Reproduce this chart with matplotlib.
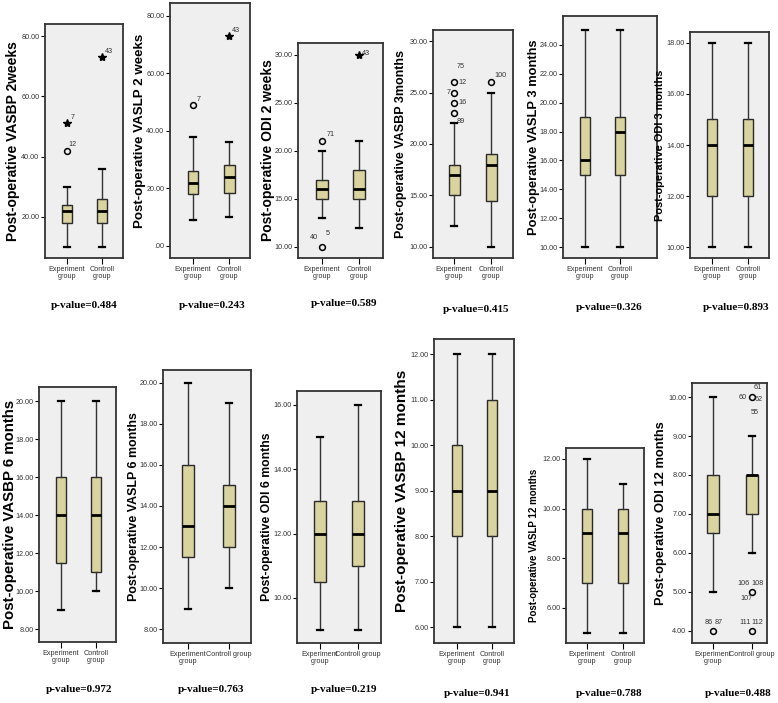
"""SPSS-style boxplots of post-operative scores, experiment vs control group"""

import matplotlib
matplotlib.use('Agg')
from matplotlib import pyplot as plt

W, H = 778, 703

# y-axis titles and p-values, one per panel (row by row)
titles = ['Post-operative VASBP 2weeks', 'Post-operative VASLP 2 weeks', 'Post-operative ODI 2 weeks',
          'Post-operative VASBP 3months', 'Post-operative VASLP 3 months', 'Post-operative ODI 3 months',
          'Post-operative VASBP 6 months', 'Post-operative VASLP 6 months', 'Post-operative ODI 6 months',
          'Post-operative VASBP 12 months', 'Post-operative VASLP 12 months', 'Post-operative ODI 12 months']
p_values = ['0.484', '0.243', '0.589', '0.415', '0.326', '0.893',
            '0.972', '0.763', '0.219', '0.941', '0.788', '0.488']

# five-number summaries (lower whisker, Q1, median, Q3, upper whisker)
exp_low = [10, 9, 13, 12, 10, 10, 9, 9, 9, 6, 5, 5]
exp_q1 = [18, 18, 15, 15, 15, 12, 11.5, 11.5, 10.5, 8, 7, 6.5]
exp_med = [22, 22, 16, 17, 16, 14, 14, 13, 12, 9, 9, 7]
exp_q3 = [24, 26, 17, 18, 19, 15, 16, 16, 13, 10, 10, 8]
exp_high = [30, 38, 20, 22, 25, 18, 20, 20, 15, 12, 12, 10]

ctl_low = [10, 10, 12, 10, 10, 10, 10, 10, 9, 6, 5, 6]
ctl_q1 = [18, 18.5, 15, 14.5, 15, 12, 11, 12, 11, 8, 7, 7]
ctl_med = [22, 24, 16, 18, 18, 14, 14, 14, 12, 9, 9, 8]
ctl_q3 = [26, 28, 18, 19, 19, 15, 16, 15, 13, 11, 10, 8]
ctl_high = [36, 36, 21, 25, 25, 18, 20, 19, 16, 12, 11, 9]

# outliers: panel, group (0 = experiment, 1 = control), value, kind, case numbers
out_panel = [0, 0, 0, 1, 1, 2, 2, 2, 3, 3, 3, 3, 3, 11, 11, 11, 11]
out_group = [0, 0, 1, 0, 1, 0, 0, 1, 0, 0, 0, 0, 1, 0, 1, 1, 1]
out_value = [42, 51, 73, 49, 73, 21, 10, 30, 23, 24, 25, 26, 26, 4, 10, 5, 4]
out_kind = ['o', '*', '*', 'o', '*', 'o', 'o', '*', 'o', 'o', 'o', 'o', 'o', 'o', 'o', 'o', 'o']
out_cases = [['12'], ['7'], ['43'], ['7'], ['43'], ['71'], ['40', '5'], ['43'],
             ['89'], ['16'], ['7'], ['12', '75'], ['100'],
             ['86', '87'], ['60', '61', '62', '55'], ['106', '108', '107'], ['111', '112']]

# y ticks per panel
yticks = [[20, 40, 60, 80], [0, 20, 40, 60, 80], [10, 15, 20, 25, 30], [10, 15, 20, 25, 30],
          list(range(10, 25, 2)), list(range(10, 19, 2)), list(range(8, 21, 2)), list(range(8, 21, 2)),
          list(range(10, 17, 2)), list(range(6, 13)), list(range(6, 13, 2)), list(range(4, 11))]

# ---- layout (pixels in the 778x703 picture) ----
frames = [(45, 123, 24, 258), (170, 250, 3, 258), (298, 383, 43, 258), (433, 513, 30, 258),
          (563, 657, 16, 258), (690, 769, 32, 258), (39, 116, 387, 642), (163, 251, 370, 643),
          (297, 381, 391, 643), (434, 514, 339, 643), (566, 644, 448, 643), (692, 767, 383, 643)]
ylims = [(6.33, 84), (-4.2, 84.5), (8.85, 31.25), (8.93, 31.07), (9.24, 26.0), (9.57, 18.43),
         (7.32, 20.74), (7.32, 20.63), (8.6, 16.43), (5.65, 12.33), (4.59, 12.44), (3.69, 10.36)]
xlims = [(0.37, 2.6), (0.36, 2.58), (0.35, 2.65), (0.43, 2.59), (0.37, 3.06), (0.39, 2.58),
         (0.37, 2.57), (0.39, 2.54), (0.39, 2.6), (0.34, 2.63), (0.42, 2.58), (0.46, 2.38)]
title_x = [13, 140, 268, 401, 534, 660, 10, 134, 267, 402, 534, 661]
title_fs = [10, 9.6, 10, 9, 9.3, 7.9, 10.8, 8.9, 8.8, 11, 7, 9.3]
pval_xy = [(84, 305), (212, 305), (344, 303), (476, 310), (609, 307), (736, 307),
           (79, 690), (211, 690), (344, 690), (477, 694), (609, 693), (738, 693)]
one_line_ctl = {7, 8, 11}
label_offsets = [[(4, 4)], [(4, 4)], [(5, 4)], [(4, 4)], [(5, 4)], [(6, 5)], [(-6, 7), (4, 10)], [(5, 1)],
                 [(5, -6)], [(6, 0)], [(-4, 0)], [(6, 0), (5, 11)], [(7, 5)],
                 [(-3, 6), (4, 6)], [(-7, 0), (4, 7), (5, -2), (2, -11)], [(-6, 6), (4, 6), (-4, -5)],
                 [(-5, 6), (4, 6)]]

SANS = ['Liberation Sans Narrow', 'Liberation Sans', 'DejaVu Sans']
BOX = '#d9d3a0'

fig = plt.figure(figsize=(W / 100, H / 100), dpi=100)

for i in range(12):
    L, R, T, B = frames[i]
    ax = fig.add_axes([L / W, 1 - B / H, (R - L) / W, (B - T) / H])
    stats = [dict(whislo=exp_low[i], q1=exp_q1[i], med=exp_med[i], q3=exp_q3[i], whishi=exp_high[i], fliers=[]),
             dict(whislo=ctl_low[i], q1=ctl_q1[i], med=ctl_med[i], q3=ctl_q3[i], whishi=ctl_high[i], fliers=[])]
    ax.bxp(stats, positions=[1, 2], widths=0.3, capwidths=0.16, patch_artist=True, showfliers=False,
           boxprops=dict(facecolor=BOX, edgecolor='#2a2a2a', linewidth=1.0),
           medianprops=dict(color='black', linewidth=2.0),
           whiskerprops=dict(color='#333333', linewidth=1.0),
           capprops=dict(color='black', linewidth=1.6))
    ax.set_facecolor('#efefef')
    for s in ax.spines.values():
        s.set_color('#333333')
        s.set_linewidth(1.3)
    ax.set_xlim(*xlims[i])
    ax.set_ylim(*ylims[i])
    ax.set_yticks(yticks[i])
    ax.set_yticklabels([('%.2f' % v).lstrip('0') if v == 0 else '%.2f' % v for v in yticks[i]],
                       family=SANS, fontsize=5.2, color='#333333')
    ctl_name = 'Controll group' if i in one_line_ctl else 'Controll\ngroup'
    ax.set_xticks([1, 2])
    ax.set_xticklabels(['Experiment\ngroup', ctl_name], family=SANS, fontsize=5.2, color='#333333',
                       linespacing=1.0)
    ax.tick_params(axis='y', length=3, width=0.8, pad=1)
    ax.tick_params(axis='x', length=4, width=0.8, pad=2)

    fig.text(title_x[i] / W, 1 - ((T + B) / 2) / H, titles[i], rotation=90, ha='center', va='center',
             family=['Liberation Sans', 'DejaVu Sans'], fontweight='bold', fontsize=title_fs[i])
    px, py = pval_xy[i]
    fig.text(px / W, 1 - py / H, 'p-value=' + p_values[i], ha='center', va='center',
             family=['Liberation Serif', 'DejaVu Serif'], fontweight='bold', fontsize=8)

# outliers with case numbers
for k in range(len(out_panel)):
    ax = fig.axes[out_panel[k]]
    x = out_group[k] + 1
    y = out_value[k]
    if out_kind[k] == '*':
        ax.plot(x, y, marker='*', ms=6, color='black', ls='none')
    else:
        ax.plot(x, y, marker='o', ms=4.2, mfc='none', mec='black', mew=1.1, ls='none')
    for case, (dx, dy) in zip(out_cases[k], label_offsets[k]):
        ax.annotate(case, (x, y), xytext=(dx, dy), textcoords='offset points', ha='center', va='center',
                    family=SANS, fontsize=5.2, color='#333333')

fig.savefig('out.png', dpi=100)
